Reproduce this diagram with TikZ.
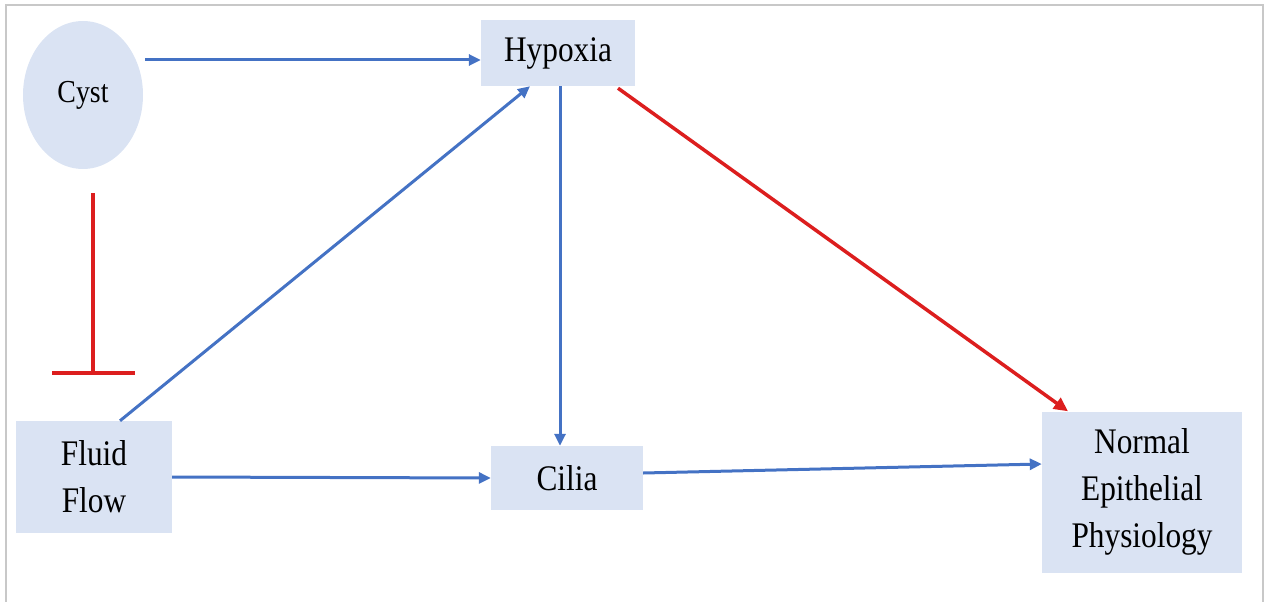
\documentclass[tikz,border=0pt]{standalone}
\usepackage{fontspec}
\setmainfont[FakeStretch=0.87]{Liberation Serif}
\usepackage{tikz}
\usetikzlibrary{calc, arrows.meta, shapes.geometric}
\definecolor{boxfill}{HTML}{DAE3F3}
\definecolor{arrowblue}{HTML}{4472C4}
\definecolor{inhibred}{HTML}{DC1E1E}
\definecolor{framegray}{HTML}{C8C8C8}
\tikzset{%
	act/.style={draw=arrowblue, line width=3pt, -{Triangle[length=12pt,width=11pt]}},
	actred/.style={draw=inhibred, line width=3.5pt, -{Triangle[length=14pt,width=13pt]}}
}

\begin{document}
\begin{tikzpicture}[x=1pt, y=-1pt,
	box/.style={rectangle, fill=boxfill, inner sep=0pt, align=center,
		font=\fontsize{36}{47}\selectfont, minimum width=#1},
	inhib/.style={draw=inhibred, line width=3.5pt, -{Bar[width=83pt,line width=3.5pt]}}]
				\useasboundingbox (0,0) rectangle (1269,602);
				\draw [framegray, line width=2pt] (6,602) -- (6,5) -- (1263,5) -- (1263,602);
				\node [ellipse, fill=boxfill, minimum width=120pt, minimum height=148pt, inner sep=0pt,
					font=\fontsize{32}{38}\selectfont] (cyst) at (83,95) {Cyst};
				\node [box=154pt, minimum height=66pt] (hyp) at (558,53) {Hypoxia};
				\node [box=156pt, minimum height=112pt] (fluid) at (94,477) {Fluid\\Flow};
				\node [box=152pt, minimum height=64pt] (cilia) at (567,478) {Cilia};
				\node [box=200pt, minimum height=161pt] (normal) at (1142,492) {Normal\\Epithelial\\Physiology};
				\coordinate (c1) at ($(cyst.east)+(2,-35)$);
				\coordinate (h1) at ($(hyp.south)+(2,0)$);
				\draw [act] (c1) -- (c1 -| hyp.west);
				\draw [inhib] ($(cyst.south)+(10,24)$) -- ($(fluid.north)+(-1,-46)$);
				\draw [act] ($(fluid.north)+(26,0)$) -- ($(hyp.south)+(-28,0)$);
				\draw [act] (fluid.east) -- (cilia.west);
				\draw [act] (h1) -- (h1 |- cilia.north);
				\draw [actred] ($(hyp.south)+(60,2)$) -- ($(normal.north)+(-74,0)$);
				\draw [act] ($(cilia.east)+(0,-5)$) -- ($(normal.west)+(0,-28)$);
			\end{tikzpicture}
\end{document}
